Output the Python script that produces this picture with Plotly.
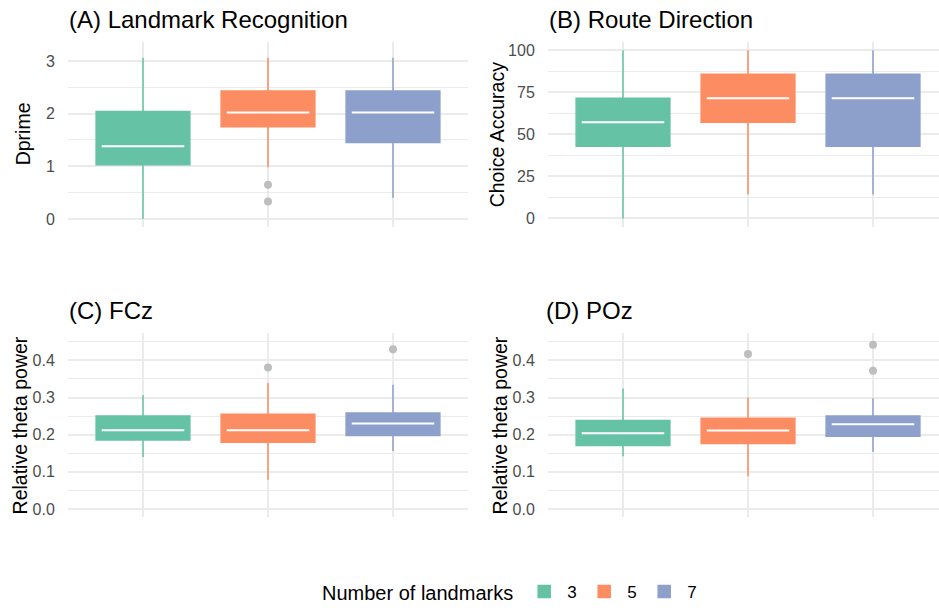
import plotly.graph_objects as go

# ---------------- data ----------------
groups = ["3", "5", "7"]
colors = ["#66C2A5", "#FC8D62", "#8DA0CB"]

# (A) Landmark Recognition - Dprime
dprime_lo = [0.00, 0.98, 0.40]
dprime_q1 = [1.03, 1.75, 1.45]
dprime_med = [1.38, 2.02, 2.02]
dprime_q3 = [2.04, 2.43, 2.43]
dprime_hi = [3.06, 3.06, 3.06]
dprime_out_g = ["5", "5"]
dprime_out_y = [0.65, 0.33]

# (B) Route Direction - Choice Accuracy
route_lo = [0.0, 14.29, 14.29]
route_q1 = [42.86, 57.14, 42.86]
route_med = [57.14, 71.43, 71.43]
route_q3 = [71.43, 85.71, 85.71]
route_hi = [100.0, 100.0, 100.0]
route_out_g = []
route_out_y = []

# (C) FCz - Relative theta power
fcz_lo = [0.140, 0.079, 0.156]
fcz_q1 = [0.186, 0.180, 0.198]
fcz_med = [0.212, 0.212, 0.230]
fcz_q3 = [0.250, 0.255, 0.258]
fcz_hi = [0.307, 0.339, 0.334]
fcz_out_g = ["5", "7"]
fcz_out_y = [0.381, 0.430]

# (D) POz - Relative theta power
poz_lo = [0.142, 0.088, 0.154]
poz_q1 = [0.171, 0.176, 0.196]
poz_med = [0.204, 0.211, 0.228]
poz_q3 = [0.238, 0.244, 0.250]
poz_hi = [0.324, 0.300, 0.298]
poz_out_g = ["5", "7", "7"]
poz_out_y = [0.417, 0.442, 0.372]

W, H = 939, 610

panels = [
    dict(key="", title="(A) Landmark Recognition", ytitle="Dprime",
         lo=dprime_lo, q1=dprime_q1, med=dprime_med, q3=dprime_q3, hi=dprime_hi,
         og=dprime_out_g, oy=dprime_out_y,
         px=(68, 468), py=(42, 228), xr=[0.4, 3.6], yr=[-0.151, 3.365],
         ticks=[0, 1, 2, 3], ticktext=["0", "1", "2", "3"], minor=0.5,
         title_x=67, title_y=20, ytitle_x=23),
    dict(key="2", title="(B) Route Direction", ytitle="Choice Accuracy",
         lo=route_lo, q1=route_q1, med=route_med, q3=route_q3, hi=route_hi,
         og=route_out_g, oy=route_out_y,
         px=(548, 939), py=(42, 228), xr=[0.4, 0.4 + 391 / 125], yr=[-5, 105],
         ticks=[0, 25, 50, 75, 100], ticktext=["0", "25", "50", "75", "100"], minor=12.5,
         title_x=547, title_y=20, ytitle_x=497),
    dict(key="3", title="(C) FCz", ytitle="Relative theta power",
         lo=fcz_lo, q1=fcz_q1, med=fcz_med, q3=fcz_q3, hi=fcz_hi,
         og=fcz_out_g, oy=fcz_out_y,
         px=(68, 468), py=(335, 520), xr=[0.4, 3.6], yr=[-0.0225, 0.4725],
         ticks=[0, 0.1, 0.2, 0.3, 0.4], ticktext=["0.0", "0.1", "0.2", "0.3", "0.4"], minor=0.05,
         title_x=67, title_y=312, ytitle_x=20),
    dict(key="4", title="(D) POz", ytitle="Relative theta power",
         lo=poz_lo, q1=poz_q1, med=poz_med, q3=poz_q3, hi=poz_hi,
         og=poz_out_g, oy=poz_out_y,
         px=(548, 939), py=(335, 520), xr=[0.4, 0.4 + 391 / 125], yr=[-0.0225, 0.4725],
         ticks=[0, 0.1, 0.2, 0.3, 0.4], ticktext=["0.0", "0.1", "0.2", "0.3", "0.4"], minor=0.05,
         title_x=544, title_y=312, ytitle_x=500),
]

fig = go.Figure()
annotations = []
layout_axes = {}
FONT = "Liberation Sans, Arial, sans-serif"
GRID = "#EBEBEB"

for pi, p in enumerate(panels):
    xa, ya = "x" + p["key"], "y" + p["key"]
    for gi, g in enumerate(groups):
        pos = gi + 1
        fig.add_trace(go.Box(
            x=[pos], q1=[p["q1"][gi]], median=[p["med"][gi]], q3=[p["q3"][gi]],
            lowerfence=[p["lo"][gi]], upperfence=[p["hi"][gi]],
            width=0.75, whiskerwidth=0, boxpoints=False,
            fillcolor=colors[gi], line=dict(color=colors[gi], width=1.5),
            name=g, legendgroup=g, showlegend=(pi == 0),
            xaxis=xa, yaxis=ya, hoverinfo="skip",
        ))
        # white median line
        fig.add_trace(go.Scatter(
            x=[pos - 0.33, pos + 0.33], y=[p["med"][gi], p["med"][gi]],
            mode="lines", line=dict(color="white", width=2),
            showlegend=False, xaxis=xa, yaxis=ya, hoverinfo="skip",
        ))
    if p["og"]:
        fig.add_trace(go.Scatter(
            x=[groups.index(g) + 1 for g in p["og"]], y=p["oy"], mode="markers",
            marker=dict(color="#BEBEBE", size=8),
            showlegend=False, xaxis=xa, yaxis=ya, hoverinfo="skip",
        ))

    xname = "xaxis" + p["key"]
    yname = "yaxis" + p["key"]
    layout_axes[xname] = dict(
        domain=[p["px"][0] / W, p["px"][1] / W], range=p["xr"], anchor=ya,
        tickvals=[1, 2, 3], showticklabels=False, ticks="",
        showgrid=True, gridcolor=GRID, gridwidth=1.6, zeroline=False, showline=False,
    )
    layout_axes[yname] = dict(
        domain=[1 - p["py"][1] / H, 1 - p["py"][0] / H], range=p["yr"], anchor=xa,
        tickvals=p["ticks"], ticktext=p["ticktext"],
        ticks="outside", ticklen=9, tickcolor="rgba(0,0,0,0)",
        tickfont=dict(size=16, color="#4D4D4D", family=FONT),
        showgrid=True, gridcolor=GRID, gridwidth=1.6, zeroline=False, showline=False,
        minor=dict(dtick=p["minor"], tick0=p["minor"], showgrid=True, gridcolor=GRID, gridwidth=0.9, ticks=""),
    )
    annotations.append(dict(
        text=p["title"], x=p["title_x"] / W, y=1 - p["title_y"] / H, xref="paper", yref="paper",
        xanchor="left", yanchor="middle", showarrow=False,
        font=dict(size=24, color="black", family=FONT),
    ))
    annotations.append(dict(
        text=p["ytitle"], x=p["ytitle_x"] / W, y=1 - (p["py"][0] + p["py"][1]) / 2 / H,
        xref="paper", yref="paper", xanchor="center", yanchor="middle", textangle=-90,
        showarrow=False, font=dict(size=19.5, color="black", family=FONT),
    ))

fig.update_layout(
    width=W, height=H, margin=dict(l=0, r=0, t=0, b=0),
    paper_bgcolor="white", plot_bgcolor="white",
    boxmode="overlay",
    font=dict(family=FONT),
    annotations=annotations,
    legend=dict(
        orientation="h", x=511 / W, xanchor="center", y=1 - 595 / H, yanchor="middle",
        title=dict(text="Number of landmarks", side="left", font=dict(size=20, color="black")),
        font=dict(size=17, color="black"), bgcolor="rgba(0,0,0,0)",
        entrywidth=9, itemwidth=36,
    ),
    **layout_axes,
)

fig.write_html(
    "out.html",
    config={"displayModeBar": False},
    post_script="document.body.style.margin='0';document.body.style.overflow='hidden';",
)
